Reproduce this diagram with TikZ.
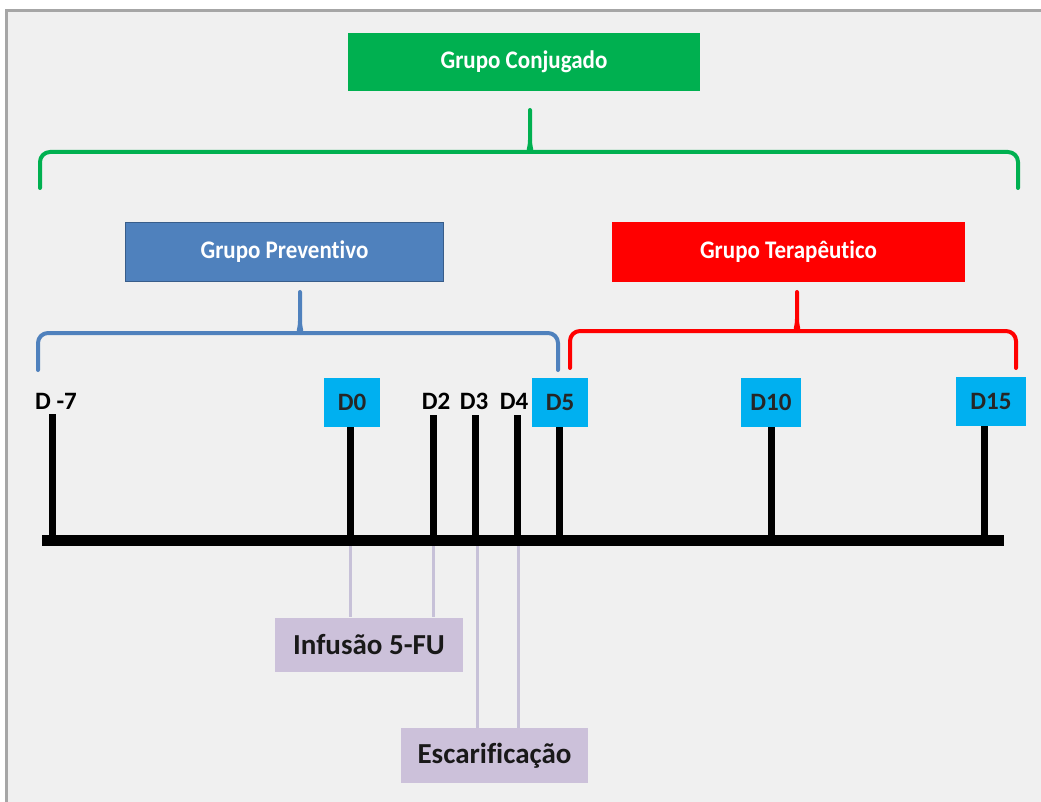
\documentclass[tikz,border=0pt]{standalone}
\usepackage{fontspec}
\setmainfont{Carlito}[Ligatures=CommonOff]
\definecolor{bggray}{HTML}{F0F0F0}
\definecolor{framegray}{HTML}{A6A6A6}
\definecolor{grpgreen}{HTML}{00B050}
\definecolor{grpblue}{HTML}{4F81BD}
\definecolor{grpblueedge}{HTML}{385D8A}
\definecolor{grpred}{HTML}{FF0000}
\definecolor{daycyan}{HTML}{00B0F0}
\definecolor{lav}{HTML}{CCC1DA}
\definecolor{lavline}{HTML}{C7C1D8}
\newcommand{\tallish}[1]{\scalebox{1}[1.1]{#1}}
\begin{document}
\begin{tikzpicture}[x=1pt,y=-1pt,
  grp/.style={minimum height=58pt, inner sep=0pt, text=white,
    font=\fontsize{23}{27}\selectfont\bfseries},
  dbox/.style={fill=daycyan, minimum height=49pt, inner sep=0pt,
    font=\fontsize{25}{30}\selectfont\bfseries, text=black!85},
  dlab/.style={inner sep=0pt, font=\fontsize{25}{30}\selectfont\bfseries},
  tick/.style={line width=7pt, black},
  brace/.style={line width=4pt, line cap=round, line join=round},
  ev/.style={fill=lav, inner sep=0pt, minimum height=54pt,
    font=\fontsize{29}{33}\selectfont\bfseries, text=black!90},
  evline/.style={line width=3pt, lavline}
]
\useasboundingbox (0,0) rectangle (1041,802);
\fill[white] (0,0) rectangle (1041,802);
\fill[bggray] (6,11) rectangle (1041,802);
\draw[framegray, line width=3pt] (6,802) -- (6,11) -- (1041,11);

% group boxes
\node[grp, fill=grpgreen, minimum width=352pt] (conj) at (524,62) {\tallish{Grupo Conjugado}};
\node[grp, fill=grpblue, draw=grpblueedge, line width=1.5pt, minimum width=318pt, minimum height=59pt] (prev) at (284.5,252) {\tallish{Grupo Preventivo}};
\node[grp, fill=grpred, minimum width=353pt, minimum height=60pt] (tera) at (788.5,252) {\tallish{Grupo Terapêutico}};

% braces
\draw[brace, grpgreen, rounded corners=10pt] (40,188) -- (40,152) -- (520,152)
  [sharp corners] .. controls (527,152) and (530,148) .. (530,140) -- (530,110);
\draw[brace, grpgreen, rounded corners=10pt] (1018,188) -- (1018,152) -- (540,152)
  [sharp corners] .. controls (533,152) and (530,148) .. (530,140);
\draw[brace, grpblue, rounded corners=10pt] (38,370) -- (38,333) -- (290,333)
  [sharp corners] .. controls (297,333) and (300,329) .. (300,321) -- (300,292);
\draw[brace, grpblue, rounded corners=10pt] (558,370) -- (558,333) -- (310,333)
  [sharp corners] .. controls (303,333) and (300,329) .. (300,321);
\draw[brace, grpred, rounded corners=10pt] (570,368) -- (570,331) -- (787,331)
  [sharp corners] .. controls (794,331) and (797,327) .. (797,319) -- (797,292);
\draw[brace, grpred, rounded corners=10pt] (1016,368) -- (1016,331) -- (807,331)
  [sharp corners] .. controls (800,331) and (797,327) .. (797,319);

% day labels
\node[dlab] (dm7) at (56,401) {D -7};
\node[dbox, minimum width=56pt] (d0) at (352,402) {D0};
\node[dlab] (d2) at (436,401) {D2};
\node[dlab] (d3) at (474,401) {D3};
\node[dlab] (d4) at (514,401) {D4};
\node[dbox, minimum width=56pt] (d5) at (560,402) {D5};
\node[dbox, minimum width=60pt] (d10) at (771,402) {D10};
\node[dbox, minimum width=70pt] (d15) at (991,401.5) {D15};

% ticks
\coordinate (am7) at (52,540);
\coordinate (a0) at (350,540);
\coordinate (a2) at (433,540);
\coordinate (a3) at (475,540);
\coordinate (a4) at (517,540);
\coordinate (a5) at (559,540);
\coordinate (a10) at (771,540);
\coordinate (a15) at (984,540);
\coordinate (tm7) at (52,414);
\coordinate (t2) at (433,415);
\coordinate (t3) at (475,415);
\coordinate (t4) at (517,415);
\draw[tick] (am7) -- (tm7);
\draw[tick] (a0) -- (a0 |- d0.south);
\draw[tick] (a2) -- (t2);
\draw[tick] (a3) -- (t3);
\draw[tick] (a4) -- (t4);
\draw[tick] (a5) -- (a5 |- d5.south);
\draw[tick] (a10) -- (a10 |- d10.south);
\draw[tick] (a15) -- (a15 |- d15.south);

% axis
\coordinate (axL) at (42,540);
\coordinate (axR) at (1004,540);
\draw[line width=11pt, black] (axL) -- (axR);

% events
\node[ev, minimum width=188pt] (inf) at (369,644.5) {Infusão 5-FU};
\node[ev, minimum width=187pt, minimum height=55pt] (esc) at (494.5,755.5) {Escarificação};
\coordinate (e0) at (350,546);
\coordinate (e2) at (433,546);
\coordinate (e3) at (477,546);
\coordinate (e4) at (518,546);
\draw[evline] (e0) -- (e0 |- inf.north);
\draw[evline] (e2) -- (e2 |- inf.north);
\draw[evline] (e3) -- (e3 |- esc.north);
\draw[evline] (e4) -- (e4 |- esc.north);
\end{tikzpicture}
\end{document}
